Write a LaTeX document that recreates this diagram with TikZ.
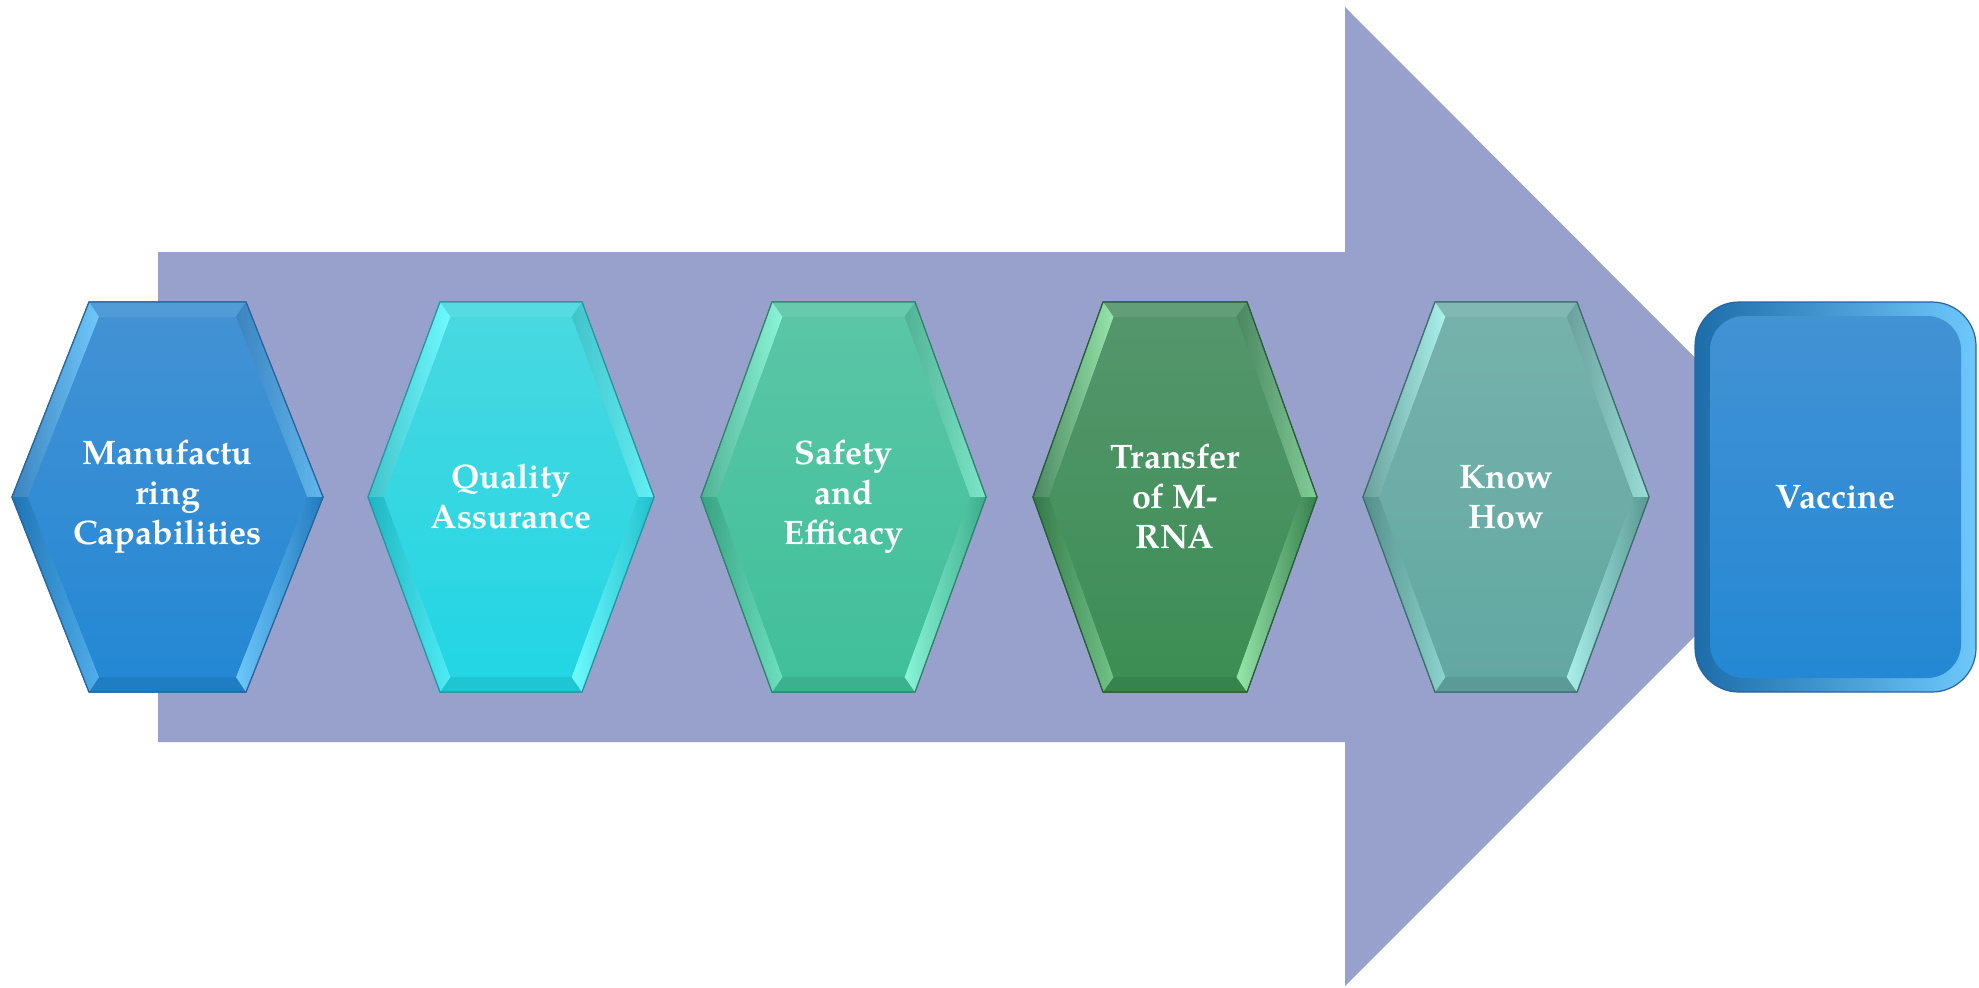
\documentclass[tikz,border=0pt]{standalone}
\usepackage{fontspec}
\setmainfont{texgyrepagella}[Extension=.otf,UprightFont=*-regular,BoldFont=*-bold,ItalicFont=*-italic,BoldItalicFont=*-bolditalic]
\usetikzlibrary{positioning}
\definecolor{arrowfill}{RGB}{152,161,203}
% step colours: top, bottom, highlight, border
\definecolor{mcTop}{RGB}{66,146,212}\definecolor{mcBot}{RGB}{36,136,212}\definecolor{mcHi}{RGB}{110,200,250}\definecolor{mcLo}{RGB}{40,100,160}
\definecolor{qaTop}{RGB}{72,216,224}\definecolor{qaBot}{RGB}{34,214,228}\definecolor{qaHi}{RGB}{110,250,255}\definecolor{qaLo}{RGB}{40,150,160}
\definecolor{seTop}{RGB}{90,198,166}\definecolor{seBot}{RGB}{64,192,154}\definecolor{seHi}{RGB}{140,245,215}\definecolor{seLo}{RGB}{50,130,110}
\definecolor{tmTop}{RGB}{84,150,108}\definecolor{tmBot}{RGB}{60,142,84}\definecolor{tmHi}{RGB}{150,230,170}\definecolor{tmLo}{RGB}{40,90,60}
\definecolor{khTop}{RGB}{118,178,172}\definecolor{khBot}{RGB}{98,168,162}\definecolor{khHi}{RGB}{170,240,235}\definecolor{khLo}{RGB}{60,110,110}
\tikzset{
    %Define style for step labels
    steptext/.style={
           text=white,
           font=\bfseries\fontsize{17}{20}\selectfont,
           align=center,
           inner sep=0pt},
    % Define style for step borders
    stepedge/.style={draw=#1, line width=0.6pt}
}
% bevelled hexagon: centre x, half width, slant, colour prefix, node name, text
\newcommand{\stephex}[6]{
  \pgfmathsetmacro\xl{#1-#2}\pgfmathsetmacro\xr{#1+#2}
  \pgfmathsetmacro\xtl{#1-#2+#3}\pgfmathsetmacro\xtr{#1+#2-#3}
  \pgfmathsetmacro\xil{#1-#2+16}\pgfmathsetmacro\xir{#1+#2-16}
  \pgfmathsetmacro\xitl{\xil+#3*0.923}\pgfmathsetmacro\xitr{\xir-#3*0.923}
  \shade[top color=#4Top, bottom color=#4Bot, stepedge=#4Lo]
    (\xtl,302) -- (\xtr,302) -- (\xr,497) -- (\xtr,692) -- (\xtl,692) -- (\xl,497) -- cycle;
  % bevel faces
  \fill[#4Top!92!white] (\xtl,302) -- (\xtr,302) -- (\xitr,317) -- (\xitl,317) -- cycle;
  \fill[#4Bot!92!black] (\xtl,692) -- (\xtr,692) -- (\xitr,677) -- (\xitl,677) -- cycle;
  \shade[left color=#4Top!90!black, right color=#4Hi] (\xtl,302) -- (\xl,497) -- (\xil,497) -- (\xitl,317) -- cycle;
  \shade[left color=#4Bot!85!black, right color=#4Hi!60!#4Bot] (\xl,497) -- (\xtl,692) -- (\xitl,677) -- (\xil,497) -- cycle;
  \shade[left color=#4Top!90!black, right color=#4Hi!70!#4Top] (\xtr,302) -- (\xr,497) -- (\xir,497) -- (\xitr,317) -- cycle;
  \shade[left color=#4Hi, right color=#4Bot!90!black] (\xr,497) -- (\xtr,692) -- (\xitr,677) -- (\xir,497) -- cycle;
  \shade[top color=#4Top, bottom color=#4Bot]
    (\xitl,317) -- (\xitr,317) -- (\xir,497) -- (\xitr,677) -- (\xitl,677) -- (\xil,497) -- cycle;
  \draw[stepedge=#4Lo]
    (\xtl,302) -- (\xtr,302) -- (\xr,497) -- (\xtr,692) -- (\xtl,692) -- (\xl,497) -- cycle;
  \node[steptext] (#5) at (#1,497) {#6};
}

\begin{document}
\begin{tikzpicture}[x=0.5pt,y=-0.5pt]
  \useasboundingbox (0,0) rectangle (1979,987);
  % big arrow behind the steps
  \fill[arrowfill] (158,252) -- (1345,252) -- (1345,7) -- (1834,497)
    -- (1345,986) -- (1345,742) -- (158,742) -- cycle;
  \stephex{167.5}{155.5}{77}{mc}{manufacturing}{Manufactu\\ring\\Capabilities}
  \stephex{511}{143}{72}{qa}{quality}{Quality\\Assurance}
  \stephex{843.5}{142.5}{71}{se}{safety}{Safety\\and\\Efficacy}
  \stephex{1175}{142}{70}{tm}{transfer}{Transfer\\of M-\\RNA}
  \stephex{1506}{143}{72}{kh}{knowhow}{Know\\How}
  % final box
  \shade[left color=mcBot!80!black, middle color=mcTop, right color=mcHi, stepedge=mcLo, rounded corners=22pt]
    (1695,302) rectangle (1976,692);
  \shade[top color=mcTop, bottom color=mcBot, rounded corners=17pt]
    (1710,316) rectangle (1961,678);
  \node[steptext] (vaccine) at (1835.5,497) {Vaccine};
\end{tikzpicture}
\end{document}
